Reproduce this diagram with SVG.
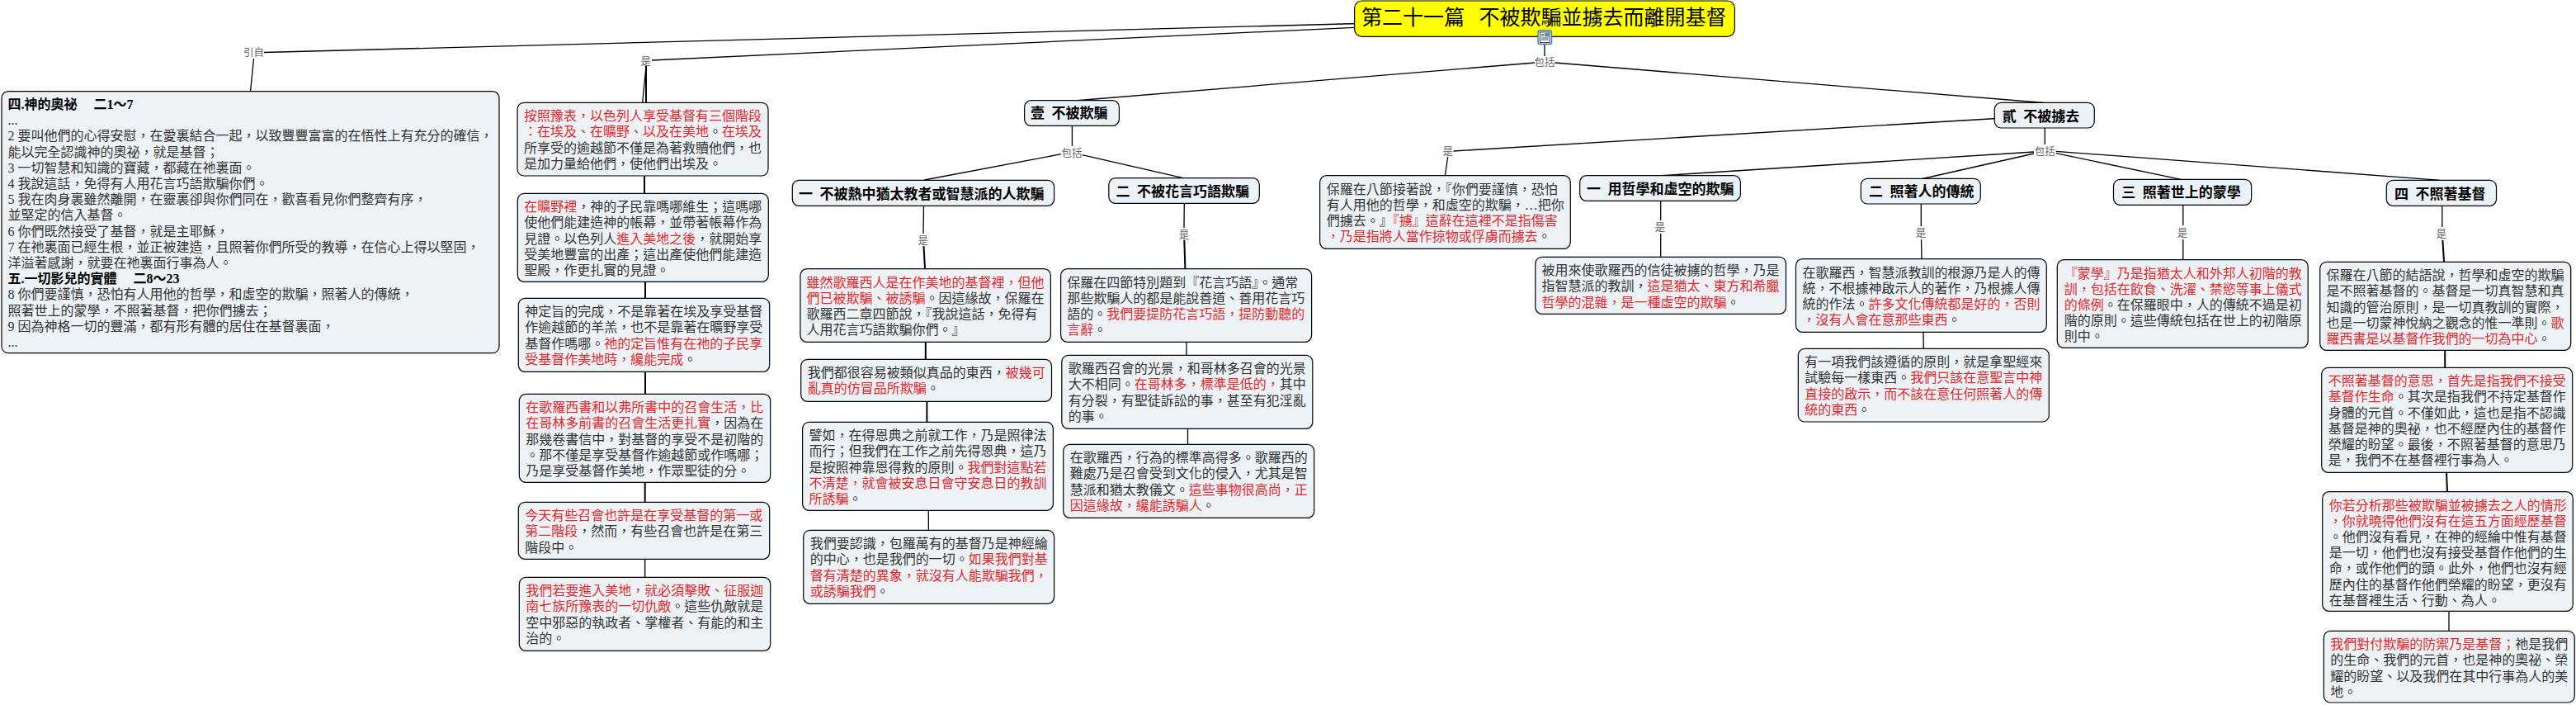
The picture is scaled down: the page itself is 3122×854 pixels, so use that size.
<svg xmlns="http://www.w3.org/2000/svg" width="3122" height="854" viewBox="0 0 3122 854">
<style>
text{font-family:"Liberation Serif","Noto Sans CJK TC",serif;white-space:pre}
.b{fill:#ecf2f5;stroke:#000;stroke-width:1.2}
.t{font-size:16px;fill:#333}
.r{fill:#e6282d}
.h{font-size:17px;font-weight:700;fill:#000}
.m{font-size:16px;font-weight:700;fill:#000}
.l{font-size:12.5px;fill:#666;text-anchor:middle}
.c line{stroke:#000;stroke-width:1.3}
.c line.k{stroke-width:2}
</style>
<rect width="3122" height="854" fill="#fff"/>
<g id="connectors" class="c">
<line x1="1872" y1="22.6" x2="320" y2="63.5"/>
<line x1="307.5" y1="71" x2="303.5" y2="111"/>
<line x1="1872" y1="22.6" x2="790" y2="73"/>
<line x1="783" y1="80" x2="778.7" y2="124.5"/>
<line class="k" x1="783" y1="80" x2="783" y2="124.5"/>
<line x1="1872" y1="53" x2="1872" y2="68"/>
<line x1="1860" y1="76" x2="1302" y2="122"/>
<line x1="1884.5" y1="76" x2="2477" y2="124.5"/>
<line class="k" x1="781" y1="213" x2="781" y2="234.5"/>
<line class="k" x1="782" y1="341" x2="782" y2="361.5"/>
<line class="k" x1="782" y1="450" x2="782" y2="477.5"/>
<line class="k" x1="781.7" y1="584" x2="781.7" y2="608.5"/>
<line x1="781.7" y1="677" x2="781.7" y2="699.5"/>
<line x1="1299.4" y1="152.3" x2="1299.4" y2="177"/>
<line x1="1286" y1="186.7" x2="1120.3" y2="218"/>
<line x1="1311.6" y1="187.7" x2="1434" y2="215.7"/>
<line x1="1119.5" y1="249.3" x2="1119" y2="283"/>
<line class="k" x1="1119.5" y1="298" x2="1121" y2="325.7"/>
<line x1="1435.3" y1="246.3" x2="1435" y2="276"/>
<line class="k" x1="1435.3" y1="291" x2="1436.4" y2="325.7"/>
<line class="k" x1="1121.8" y1="414" x2="1121.8" y2="435.5"/>
<line class="k" x1="1123.4" y1="486" x2="1123.4" y2="511.5"/>
<line x1="1125.3" y1="618" x2="1125.3" y2="642.5"/>
<line x1="1438" y1="414" x2="1438" y2="430.5"/>
<line x1="1439.5" y1="519" x2="1439.5" y2="538.5"/>
<line x1="2478" y1="140" x2="1761.6" y2="183"/>
<line x1="1754.7" y1="190" x2="1751.4" y2="212.7"/>
<line x1="2478.3" y1="155" x2="2478.3" y2="175"/>
<line x1="2465" y1="184" x2="2012.7" y2="212.7"/>
<line x1="2465" y1="186" x2="2330" y2="216.5"/>
<line x1="2491.7" y1="183.3" x2="2957.6" y2="218.3"/>
<line x1="2491.7" y1="185.7" x2="2643.3" y2="217.3"/>
<line x1="2012.7" y1="243.3" x2="2012.7" y2="267"/>
<line x1="2012.7" y1="283" x2="2012.7" y2="311.3"/>
<line x1="2328.3" y1="247" x2="2328.3" y2="274"/>
<line x1="2328.5" y1="290" x2="2329" y2="313.7"/>
<line x1="2331" y1="402" x2="2331.3" y2="422.3"/>
<line x1="2645.8" y1="248.3" x2="2645.8" y2="273"/>
<line x1="2645.8" y1="290" x2="2645.8" y2="314.7"/>
<line x1="2959.8" y1="249.3" x2="2959.8" y2="275"/>
<line class="k" x1="2960.4" y1="291" x2="2962" y2="317.3"/>
<line class="k" x1="2963.2" y1="424" x2="2963.2" y2="445.3"/>
<line class="k" x1="2965" y1="572" x2="2966" y2="595.7"/>
<line x1="2968" y1="740" x2="2968" y2="764.3"/>
<g id="edge-labels">
<text class="l" x="307.5" y="68">引自</text>
<text class="l" x="782.7" y="79">是</text>
<text class="l" x="1872" y="80">包括</text>
<text class="l" x="1299" y="189.5">包括</text>
<text class="l" x="1118.8" y="296">是</text>
<text class="l" x="1434.9" y="289">是</text>
<text class="l" x="1754.7" y="188">是</text>
<text class="l" x="2478.3" y="187.5">包括</text>
<text class="l" x="2011.8" y="280">是</text>
<text class="l" x="2328" y="287">是</text>
<text class="l" x="2645" y="286.5">是</text>
<text class="l" x="2958.7" y="288">是</text>
</g>
</g>
<g id="root">
<rect class="b" x="1641.6" y="1" width="460.8" height="43.3" rx="9" fill="#ff0" style="fill:#ff0"/>
<text x="1650" y="30" style="font-size:25px;fill:#000">第二十一篇  <tspan dx="5">不被欺騙並擄去而離開基督</tspan></text>
</g>
<g id="root-note-icon">
<rect x="1864" y="37" width="16.5" height="16.5" rx="2.5" fill="#dce9f7" stroke="#3b7dc9" stroke-width="1.4"/>
<rect x="1866.5" y="39" width="11.5" height="12.5" fill="#fff" stroke="#222" stroke-width=".8"/>
<path d="M1868 41.5h3M1868 43.5h3M1868 46h8.5M1868 48h8.5" stroke="#222" stroke-width=".8" fill="none"/>
<rect x="1872" y="40" width="5" height="4.5" fill="#5f8fb5"/>
</g>
<g id="n-intro">
<rect class="b" x="2" y="110.7" width="603" height="317" rx="8"/>
<text class="m" x="9.5" y="132">四.神的奧祕　 二1～7</text>
<text class="t" x="9.5" y="151.2">...</text>
<text class="t" x="9.5" y="170.4">2 要叫他們的心得安慰，在愛裏結合一起，以致豐豐富富的在悟性上有充分的確信，</text>
<text class="t" x="9.5" y="189.6">能以完全認識神的奧祕，就是基督；</text>
<text class="t" x="9.5" y="208.8">3 一切智慧和知識的寶藏，都藏在祂裏面。</text>
<text class="t" x="9.5" y="228">4 我說這話，免得有人用花言巧語欺騙你們。</text>
<text class="t" x="9.5" y="247.2">5 我在肉身裏雖然離開，在靈裏卻與你們同在，歡喜看見你們整齊有序，</text>
<text class="t" x="9.5" y="266.4">並堅定的信入基督。</text>
<text class="t" x="9.5" y="285.6">6 你們既然接受了基督，就是主耶穌，</text>
<text class="t" x="9.5" y="304.8">7 在祂裏面已經生根，並正被建造，且照著你們所受的教導，在信心上得以堅固，</text>
<text class="t" x="9.5" y="324">洋溢著感謝，就要在祂裏面行事為人。</text>
<text class="m" x="9.5" y="343.2">五.一切影兒的實體　 二8～23</text>
<text class="t" x="9.5" y="362.4">8 你們要謹慎，恐怕有人用他的哲學，和虛空的欺騙，照著人的傳統，</text>
<text class="t" x="9.5" y="381.6">照著世上的蒙學，不照著基督，把你們擄去；</text>
<text class="t" x="9.5" y="400.8">9 因為神格一切的豐滿，都有形有體的居住在基督裏面，</text>
<text class="t" x="9.5" y="420">...</text>
</g>
<g id="n-b1">
<rect class="b" x="627" y="124.3" width="304" height="88.7" rx="8"/>
<text class="t r" x="635" y="146.1">按照豫表，以色列人享受基督有三個階段</text>
<text class="t" x="635" y="165.3"><tspan class="r">：在埃及、在曠野、以及在美地</tspan>。<tspan class="r">在埃及</tspan></text>
<text class="t" x="635" y="184.5">所享受的逾越節不僅是為著救贖他們，也</text>
<text class="t" x="635" y="203.7">是加力量給他們，使他們出埃及。</text>
</g>
<g id="n-b2">
<rect class="b" x="627.3" y="234.3" width="304" height="107" rx="8"/>
<text class="t" x="635.3" y="256.1"><tspan class="r">在曠野裡</tspan>，神的子民靠嗎哪維生；這嗎哪</text>
<text class="t" x="635.3" y="275.3">使他們能建造神的帳幕，並帶著帳幕作為</text>
<text class="t" x="635.3" y="294.5">見證。以色列人<tspan class="r">進入美地之後</tspan>，就開始享</text>
<text class="t" x="635.3" y="313.7">受美地豐富的出產；這出產使他們能建造</text>
<text class="t" x="635.3" y="332.9">聖殿，作更扎實的見證。</text>
</g>
<g id="n-b3">
<rect class="b" x="628.3" y="361.3" width="304.4" height="89" rx="8"/>
<text class="t" x="636.3" y="383.1">神定旨的完成，不是靠著在埃及享受基督</text>
<text class="t" x="636.3" y="402.3">作逾越節的羊羔，也不是靠著在曠野享受</text>
<text class="t" x="636.3" y="421.5">基督作嗎哪。<tspan class="r">祂的定旨惟有在祂的子民享</tspan></text>
<text class="t" x="636.3" y="440.7"><tspan class="r">受基督作美地時，纔能完成</tspan>。</text>
</g>
<g id="n-b4">
<rect class="b" x="629.3" y="477.3" width="304.4" height="107" rx="8"/>
<text class="t r" x="637.3" y="499.1">在歌羅西書和以弗所書中的召會生活，比</text>
<text class="t" x="637.3" y="518.3"><tspan class="r">在哥林多前書的召會生活更扎實</tspan>，因為在</text>
<text class="t" x="637.3" y="537.5">那幾卷書信中，對基督的享受不是初階的</text>
<text class="t" x="637.3" y="556.7">。那不僅是享受基督作逾越節或作嗎哪；</text>
<text class="t" x="637.3" y="575.9">乃是享受基督作美地，作眾聖徒的分。</text>
</g>
<g id="n-b5">
<rect class="b" x="628.3" y="608.3" width="304.4" height="69" rx="8"/>
<text class="t r" x="636.3" y="630.1">今天有些召會也許是在享受基督的第一或</text>
<text class="t" x="636.3" y="649.3"><tspan class="r">第二階段</tspan>，然而，有些召會也許是在第三</text>
<text class="t" x="636.3" y="668.5">階段中。</text>
</g>
<g id="n-b6">
<rect class="b" x="629.3" y="699.3" width="304.4" height="89" rx="8"/>
<text class="t r" x="637.3" y="721.1">我們若要進入美地，就必須擊敗、征服迦</text>
<text class="t" x="637.3" y="740.3"><tspan class="r">南七族所豫表的一切仇敵</tspan>。這些仇敵就是</text>
<text class="t" x="637.3" y="759.5">空中邪惡的執政者、掌權者、有能的和主</text>
<text class="t" x="637.3" y="778.7">治的。</text>
</g>
<g id="n-yi">
<rect class="b" x="1241.6" y="121.7" width="114.8" height="30.6" rx="8"/>
<text class="h" x="1249" y="143">壹  不被欺騙</text>
</g>
<g id="n-er">
<rect class="b" x="2417.3" y="124.3" width="121" height="30.7" rx="8"/>
<text class="h" x="2426.7" y="146.5">貳  不被擄去</text>
</g>
<g id="n-a">
<rect class="b" x="960.3" y="218.3" width="317.3" height="31" rx="8"/>
<text class="h" x="968" y="240.5">一  不被熱中猶太教者或智慧派的人欺騙</text>
</g>
<g id="n-c">
<rect class="b" x="1343.8" y="215.7" width="182.5" height="30.6" rx="8"/>
<text class="h" x="1352.6" y="237.5">二  不被花言巧語欺騙</text>
</g>
<g id="n-a1">
<rect class="b" x="969.9" y="325.7" width="303.5" height="88.6" rx="8"/>
<text class="t r" x="977.6" y="347.5">雖然歌羅西人是在作美地的基督裡，但他</text>
<text class="t" x="977.6" y="366.7"><tspan class="r">們已被欺騙、被誘騙</tspan>。因這緣故，保羅在</text>
<text class="t" x="977.6" y="385.9">歌羅西二章四節說，『我說這話，免得有</text>
<text class="t" x="977.6" y="405.1">人用花言巧語欺騙你們。』</text>
</g>
<g id="n-a2">
<rect class="b" x="970.7" y="435.3" width="303.8" height="51" rx="8"/>
<text class="t" x="978.7" y="457.1">我們都很容易被類似真品的東西，<tspan class="r">被幾可</tspan></text>
<text class="t" x="978.7" y="476.3"><tspan class="r">亂真的仿冒品所欺騙</tspan>。</text>
</g>
<g id="n-a3">
<rect class="b" x="972.6" y="511.3" width="303.8" height="107" rx="8"/>
<text class="t" x="980.6" y="533.1">譬如，在得恩典之前就工作，乃是照律法</text>
<text class="t" x="980.6" y="552.3">而行；但我們在工作之前先得恩典，這乃</text>
<text class="t" x="980.6" y="571.5">是按照神靠恩得救的原則。<tspan class="r">我們對這點若</tspan></text>
<text class="t r" x="980.6" y="590.7">不清楚，就會被安息日會守安息日的教訓</text>
<text class="t" x="980.6" y="609.9"><tspan class="r">所誘騙</tspan>。</text>
</g>
<g id="n-a4">
<rect class="b" x="973.7" y="642.3" width="303.9" height="89" rx="8"/>
<text class="t" x="981.7" y="664.1">我們要認識，包羅萬有的基督乃是神經綸</text>
<text class="t" x="981.7" y="683.3">的中心，也是我們的一切。<tspan class="r">如果我們對基</tspan></text>
<text class="t r" x="981.7" y="702.5">督有清楚的異象，就沒有人能欺騙我們，</text>
<text class="t" x="981.7" y="721.7"><tspan class="r">或誘騙我們</tspan>。</text>
</g>
<g id="n-c1">
<rect class="b" x="1285.6" y="325.7" width="304" height="88.6" rx="8"/>
<text class="t" x="1293.3" y="347.5">保羅在四節特別題到『花言巧語』。通常</text>
<text class="t" x="1293.3" y="366.7">那些欺騙人的都是能說善道、善用花言巧</text>
<text class="t" x="1293.3" y="385.9">語的。<tspan class="r">我們要提防花言巧語，提防動聽的</tspan></text>
<text class="t" x="1293.3" y="405.1"><tspan class="r">言辭</tspan>。</text>
</g>
<g id="n-c2">
<rect class="b" x="1286.8" y="430.3" width="304" height="89" rx="8"/>
<text class="t" x="1294.8" y="452.1">歌羅西召會的光景，和哥林多召會的光景</text>
<text class="t" x="1294.8" y="471.3">大不相同。<tspan class="r">在哥林多，標準是低的，</tspan>其中</text>
<text class="t" x="1294.8" y="490.5">有分裂，有聖徒訴訟的事，甚至有犯淫亂</text>
<text class="t" x="1294.8" y="509.7">的事。</text>
</g>
<g id="n-c3">
<rect class="b" x="1288.7" y="538.3" width="304" height="89" rx="8"/>
<text class="t" x="1296.7" y="560.1">在歌羅西，行為的標準高得多。歌羅西的</text>
<text class="t" x="1296.7" y="579.3">難處乃是召會受到文化的侵入，尤其是智</text>
<text class="t" x="1296.7" y="598.5">慧派和猶太教儀文。<tspan class="r">這些事物很高尚，正</tspan></text>
<text class="t" x="1296.7" y="617.7"><tspan class="r">因這緣故，纔能誘騙人</tspan>。</text>
</g>
<g id="n-d0">
<rect class="b" x="1599.6" y="212.7" width="303.7" height="88.6" rx="8"/>
<text class="t" x="1607.8" y="234.5">保羅在八節接著說，『你們要謹慎，恐怕</text>
<text class="t" x="1607.8" y="253.7">有人用他的哲學，和虛空的欺騙，…把你</text>
<text class="t" x="1607.8" y="272.9">們擄去。』<tspan class="r">『擄』這辭在這裡不是指傷害</tspan></text>
<text class="t" x="1607.8" y="292.1"><tspan class="r">，乃是指將人當作掠物或俘虜而擄去</tspan>。</text>
</g>
<g id="n-e">
<rect class="b" x="1914.7" y="212.7" width="194.7" height="30.6" rx="8"/>
<text class="h" x="1922.9" y="234.8">一  用哲學和虛空的欺騙</text>
</g>
<g id="n-e1">
<rect class="b" x="1860.8" y="311.3" width="303.7" height="69" rx="8"/>
<text class="t" x="1868.6" y="333.1">被用來使歌羅西的信徒被擄的哲學，乃是</text>
<text class="t" x="1868.6" y="352.3">指智慧派的教訓，<tspan class="r">這是猶太、東方和希臘</tspan></text>
<text class="t" x="1868.6" y="371.5"><tspan class="r">哲學的混雜，是一種虛空的欺騙</tspan>。</text>
</g>
<g id="n-f">
<rect class="b" x="2255.3" y="216.3" width="145" height="30.7" rx="8"/>
<text class="h" x="2265" y="238.2">二  照著人的傳統</text>
</g>
<g id="n-f1">
<rect class="b" x="2176.5" y="313.7" width="303.8" height="88.6" rx="8"/>
<text class="t" x="2184.5" y="335.5">在歌羅西，智慧派教訓的根源乃是人的傳</text>
<text class="t" x="2184.5" y="354.7">統，不根據神啟示人的著作，乃根據人傳</text>
<text class="t" x="2184.5" y="373.9">統的作法。<tspan class="r">許多文化傳統都是好的，否則</tspan></text>
<text class="t" x="2184.5" y="393.1"><tspan class="r">，沒有人會在意那些東西</tspan>。</text>
</g>
<g id="n-f2">
<rect class="b" x="2179.3" y="422.3" width="304" height="88.7" rx="8"/>
<text class="t" x="2187.3" y="444.1">有一項我們該遵循的原則，就是拿聖經來</text>
<text class="t" x="2187.3" y="463.3">試驗每一樣東西。<tspan class="r">我們只該在意聖言中神</tspan></text>
<text class="t r" x="2187.3" y="482.5">直接的啟示，而不該在意任何照著人的傳</text>
<text class="t" x="2187.3" y="501.7"><tspan class="r">統的東西</tspan>。</text>
</g>
<g id="n-g">
<rect class="b" x="2561.5" y="217.3" width="167.1" height="31" rx="8"/>
<text class="h" x="2571.2" y="239.2">三  照著世上的蒙學</text>
</g>
<g id="n-g1">
<rect class="b" x="2493.3" y="314.7" width="303.9" height="106.6" rx="8"/>
<text class="t" x="2501.7" y="336.5"><tspan class="r">『蒙學』乃是指猶太人和外邦人初階的教</tspan></text>
<text class="t r" x="2501.7" y="355.7">訓，包括在飲食、洗濯、禁慾等事上儀式</text>
<text class="t" x="2501.7" y="374.9"><tspan class="r">的條例</tspan>。在保羅眼中，人的傳統不過是初</text>
<text class="t" x="2501.7" y="394.1">階的原則。這些傳統包括在世上的初階原</text>
<text class="t" x="2501.7" y="413.3">則中。</text>
</g>
<g id="n-h">
<rect class="b" x="2892.3" y="218.3" width="133.2" height="31" rx="8"/>
<text class="h" x="2902" y="240.5">四  不照著基督</text>
</g>
<g id="n-h1">
<rect class="b" x="2811.7" y="317.3" width="304" height="107" rx="8"/>
<text class="t" x="2819.5" y="339.1">保羅在八節的結語說，哲學和虛空的欺騙</text>
<text class="t" x="2819.5" y="358.3">是不照著基督的。基督是一切真智慧和真</text>
<text class="t" x="2819.5" y="377.5">知識的管治原則，是一切真教訓的實際，</text>
<text class="t" x="2819.5" y="396.7">也是一切蒙神悅納之觀念的惟一準則。<tspan class="r">歌</tspan></text>
<text class="t" x="2819.5" y="415.9"><tspan class="r">羅西書是以基督作我們的一切為中心</tspan>。</text>
</g>
<g id="n-h2">
<rect class="b" x="2813.7" y="445.3" width="304" height="127" rx="8"/>
<text class="t r" x="2821.7" y="467.1">不照著基督的意思，首先是指我們不接受</text>
<text class="t" x="2821.7" y="486.3"><tspan class="r">基督作生命</tspan>。其次是指我們不持定基督作</text>
<text class="t" x="2821.7" y="505.5">身體的元首。不僅如此，這也是指不認識</text>
<text class="t" x="2821.7" y="524.7">基督是神的奧祕，也不經歷內住的基督作</text>
<text class="t" x="2821.7" y="543.9">榮耀的盼望。最後，不照著基督的意思乃</text>
<text class="t" x="2821.7" y="563.1">是，我們不在基督裡行事為人。</text>
</g>
<g id="n-h3">
<rect class="b" x="2814.7" y="595.7" width="303.6" height="144.6" rx="8"/>
<text class="t r" x="2822.7" y="617.5">你若分析那些被欺騙並被擄去之人的情形</text>
<text class="t r" x="2822.7" y="636.7">，你就曉得他們沒有在這五方面經歷基督</text>
<text class="t" x="2822.7" y="655.9">。他們沒有看見，在神的經綸中惟有基督</text>
<text class="t" x="2822.7" y="675.1">是一切，他們也沒有接受基督作他們的生</text>
<text class="t" x="2822.7" y="694.3">命，或作他們的頭。此外，他們也沒有經</text>
<text class="t" x="2822.7" y="713.5">歷內住的基督作他們榮耀的盼望，更沒有</text>
<text class="t" x="2822.7" y="732.7">在基督裡生活、行動、為人。</text>
</g>
<g id="n-h4">
<rect class="b" x="2816.3" y="764.3" width="304" height="86.7" rx="8"/>
<text class="t" x="2824.3" y="786.1"><tspan class="r">我們對付欺騙的防禦乃是基督；</tspan>祂是我們</text>
<text class="t" x="2824.3" y="805.3">的生命、我們的元首，也是神的奧祕、榮</text>
<text class="t" x="2824.3" y="824.5">耀的盼望、以及我們在其中行事為人的美</text>
<text class="t" x="2824.3" y="843.7">地。</text>
</g>
</svg>
